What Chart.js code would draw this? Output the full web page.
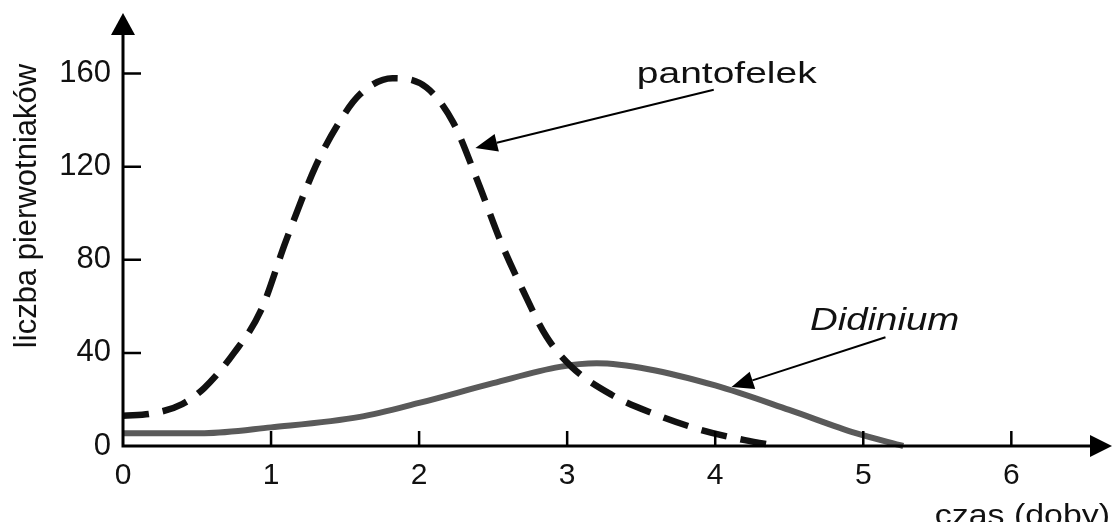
<!DOCTYPE html>
<html lang="pl">
<head>
<meta charset="utf-8">
<script src="https://cdn.jsdelivr.net/npm/chart.js@4/dist/chart.umd.min.js"></script>
<style>
  html, body { margin: 0; padding: 0; background: #fff; }
  #wykres { width: 1118px; height: 522px; }
</style>
</head>
<body>
<div id="wykres"><canvas id="grafico"></canvas></div>
<script>
// czas w dobach i liczebnosc
const dniPantofelek = [0, 0.2, 0.4, 0.55, 0.75, 0.93, 1.1, 1.3, 1.45, 1.6, 1.82, 2.05, 2.23, 2.4, 2.55, 2.7, 2.86, 3.03, 3.3, 3.58, 3.9, 4.2, 4.42]
const pantofelek = [13, 14, 18, 25, 40, 58, 88, 120, 138, 151, 158, 154, 139, 113, 88, 67, 47, 34, 22, 14, 7, 2.5, 0]
const dniDidinium = [0, 0.55, 1.0, 1.6, 2.0, 2.5, 2.95, 3.2, 3.55, 4.0, 4.5, 4.95, 5.27]
const didinium = [5.5, 5.5, 8, 12.5, 18.5, 27, 34, 35.5, 33, 26, 15.5, 5.5, 0]
const tickiX = [0, 1, 2, 3, 4, 5, 6]
const tickiY = [0, 40, 80, 120, 160]

const czcionka = '"Liberation Sans", Arial, Helvetica, sans-serif'

function punkty(xs, ys) {
    return xs.map((x, i) => ({ x: x, y: ys[i] }))
}

// osie ze strzalkami, kreski podzialki i opisy
const osie = {
    id: 'osie',
    afterDraw(chart) {
        const ctx = chart.ctx
        const area = chart.chartArea
        const sx = chart.scales.x
        const sy = chart.scales.y
        const x0 = sx.getPixelForValue(0)
        const y0 = sy.getPixelForValue(0)
        ctx.save()
        ctx.strokeStyle = '#000'
        ctx.fillStyle = '#000'
        ctx.lineWidth = 3
        ctx.beginPath()
        ctx.moveTo(x0, y0 + 1.5)
        ctx.lineTo(x0, area.top + 18)
        ctx.moveTo(x0 - 1.5, y0)
        ctx.lineTo(area.right - 18, y0)
        ctx.stroke()
        ctx.beginPath()
        ctx.moveTo(x0, area.top)
        ctx.lineTo(x0 - 12, area.top + 22)
        ctx.lineTo(x0 + 12, area.top + 22)
        ctx.closePath()
        ctx.fill()
        ctx.beginPath()
        ctx.moveTo(area.right, y0)
        ctx.lineTo(area.right - 22, y0 - 11)
        ctx.lineTo(area.right - 22, y0 + 11)
        ctx.closePath()
        ctx.fill()

        ctx.lineWidth = 2.5
        ctx.beginPath()
        tickiY.forEach(v => {
            if (v == 0) return
            const py = sy.getPixelForValue(v)
            ctx.moveTo(x0, py)
            ctx.lineTo(x0 + 18, py)
        })
        tickiX.forEach(v => {
            if (v == 0) return
            const px = sx.getPixelForValue(v)
            ctx.moveTo(px, y0)
            ctx.lineTo(px, y0 - 15)
        })
        ctx.stroke()

        // strzalki do krzywych
        strzalka(ctx, sx, sy, 3.99, 153, 2.38, 128)
        strzalka(ctx, sx, sy, 5.15, 46.7, 4.11, 25.3)

        napis(ctx, 'pantofelek', sx.getPixelForValue(3.47), sy.getPixelForValue(156), '30px ' + czcionka, 1.3)
        napis(ctx, 'Didinium', sx.getPixelForValue(4.64), sy.getPixelForValue(50), 'italic 32px ' + czcionka, 1.2)

        // tytuly osi
        ctx.textAlign = 'right'
        napis(ctx, 'czas (doby)', 1110, 525, '30px ' + czcionka, 1.13)

        ctx.save()
        ctx.translate(36, 206)
        ctx.rotate(-Math.PI / 2)
        ctx.font = '31px ' + czcionka
        ctx.textAlign = 'center'
        ctx.textBaseline = 'alphabetic'
        ctx.fillStyle = '#111'
        ctx.fillText('liczba pierwotniaków', 0, 0)
        ctx.restore()
        ctx.restore()
    }
}

function strzalka(ctx, sx, sy, xa, ya, xb, yb) {
    const ax = sx.getPixelForValue(xa), ay = sy.getPixelForValue(ya)
    const bx = sx.getPixelForValue(xb), by = sy.getPixelForValue(yb)
    const kat = Math.atan2(by - ay, bx - ax)
    const dl = 22, szer = 9
    const cx = bx - dl * Math.cos(kat), cy = by - dl * Math.sin(kat)
    ctx.lineWidth = 2
    ctx.beginPath()
    ctx.moveTo(ax, ay)
    ctx.lineTo(cx, cy)
    ctx.stroke()
    ctx.beginPath()
    ctx.moveTo(bx, by)
    ctx.lineTo(cx + szer * Math.sin(kat), cy - szer * Math.cos(kat))
    ctx.lineTo(cx - szer * Math.sin(kat), cy + szer * Math.cos(kat))
    ctx.closePath()
    ctx.fill()
}

function napis(ctx, tekst, px, py, font, rozciag) {
    ctx.save()
    ctx.translate(px, py)
    ctx.scale(rozciag, 1)
    ctx.font = font
    ctx.fillStyle = '#111'
    ctx.textBaseline = 'alphabetic'
    ctx.fillText(tekst, 0, 0)
    ctx.restore()
}

const config = {
    type: 'line',
    data: {
        datasets: [{
            label: 'pantofelek',
            data: punkty(dniPantofelek, pantofelek),
            borderColor: '#111',
            borderWidth: 6.5,
            borderDash: [26, 14],
            borderCapStyle: 'butt',
            pointRadius: 0,
            cubicInterpolationMode: 'monotone',
            clip: false
        }, {
            label: 'Didinium',
            data: punkty(dniDidinium, didinium),
            borderColor: '#5a5a5a',
            borderWidth: 6,
            pointRadius: 0,
            cubicInterpolationMode: 'monotone',
            clip: false
        }]
    },
    options: {
        responsive: true,
        maintainAspectRatio: false,
        animation: false,
        layout: { padding: { top: 13, right: 6, left: 0, bottom: 0 } },
        plugins: { legend: { display: false }, tooltip: { enabled: false } },
        scales: {
            x: {
                type: 'linear',
                min: 0,
                max: 6.68,
                afterFit: s => { s.height = 76 },
                afterBuildTicks: s => { s.ticks = tickiX.map(v => ({ value: v })) },
                grid: { display: false, drawTicks: false },
                border: { display: false },
                ticks: { color: '#111', padding: 12, font: { family: czcionka, size: 30 } }
            },
            y: {
                type: 'linear',
                min: 0,
                max: 186,
                afterFit: s => { s.width = 123; s.paddingTop = 0; s.paddingBottom = 0 },
                afterBuildTicks: s => { s.ticks = tickiY.map(v => ({ value: v })) },
                grid: { display: false, drawTicks: false },
                border: { display: false },
                ticks: { color: '#111', padding: 12, font: { family: czcionka, size: 31 } }
            }
        }
    },
    plugins: [osie]
}

new Chart(document.getElementById('grafico'), config)
</script>
</body>
</html>
